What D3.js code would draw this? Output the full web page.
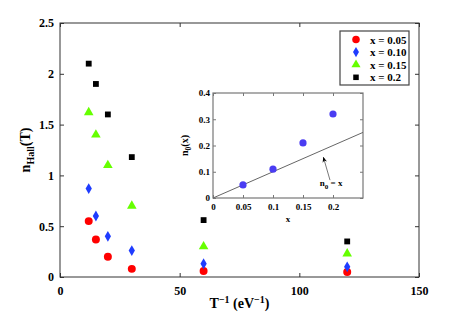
<!DOCTYPE html>
<html>
<head>
<meta charset="utf-8">
<script src="https://cdn.jsdelivr.net/npm/d3@7"></script>
<style>
  body { margin: 0; background: #fff; }
  svg text { font-family: "Liberation Serif", "Times New Roman", serif; font-weight: bold; }
</style>
</head>
<body>
<div id="chart"></div>
<script>
// Main chart data: T^-1 (eV^-1) vs n_Hall(T)
const invT = [12, 15, 20, 30, 60, 120];
const n005 = [0.55, 0.37, 0.20, 0.08, 0.06, 0.05];
const n010 = [0.87, 0.60, 0.40, 0.26, 0.13, 0.10];
const n015 = [1.62, 1.40, 1.10, 0.70, 0.30, 0.23];
const n020 = [2.10, 1.90, 1.60, 1.18, 0.56, 0.35];
const seriesLabels = ["x = 0.05", "x = 0.10", "x = 0.15", "x = 0.2"];

const xTicks = [0, 50, 100, 150];
const yTicks = [0, 0.5, 1, 1.5, 2, 2.5];

// Inset data: n0(x)
const insetX = [0.05, 0.10, 0.15, 0.20];
const insetN0 = [0.05, 0.11, 0.21, 0.32];
const insetXTicks = [0, 0.05, 0.1, 0.15, 0.2];
const insetYTicks = [0, 0.1, 0.2, 0.3, 0.4];

const width = 463, height = 316;
const margin = { top: 23, right: 44, bottom: 39, left: 60 };

const svg = d3.select('#chart').append('svg')
    .attr('width', width)
    .attr('height', height);

const x = d3.scaleLinear().domain([0, 150]).range([margin.left, width - margin.right]);
const y = d3.scaleLinear().domain([0, 2.5]).range([height - margin.bottom, margin.top]);

const axisColor = '#333';

function styleAxis(g, fontSize) {
    g.select('.domain').remove();
    g.selectAll('line').attr('stroke', axisColor);
    g.selectAll('text')
        .attr('fill', '#000')
        .style('font-size', fontSize + 'px');
}

// Axes with ticks pointing inwards
svg.append('g')
    .attr('transform', `translate(0,${y(0)})`)
    .call(d3.axisBottom(x).tickValues(xTicks).tickSizeInner(-4).tickSizeOuter(0).tickPadding(9).tickFormat(d3.format('d')))
    .call(g => styleAxis(g, 12));
svg.append('g')
    .attr('transform', `translate(0,${y(2.5)})`)
    .call(d3.axisTop(x).tickValues(xTicks).tickSizeInner(-4).tickSizeOuter(0).tickFormat(''))
    .call(g => styleAxis(g, 12));
svg.append('g')
    .attr('transform', `translate(${x(0)},0)`)
    .call(d3.axisLeft(y).tickValues(yTicks).tickSizeInner(-4).tickSizeOuter(0).tickPadding(6).tickFormat(d => d))
    .call(g => styleAxis(g, 12));
svg.append('g')
    .attr('transform', `translate(${x(150)},0)`)
    .call(d3.axisRight(y).tickValues(yTicks).tickSizeInner(-4).tickSizeOuter(0).tickFormat(''))
    .call(g => styleAxis(g, 12));

// Frame
svg.append('rect')
    .attr('x', x(0)).attr('y', y(2.5))
    .attr('width', x(150) - x(0)).attr('height', y(0) - y(2.5))
    .attr('fill', 'none').attr('stroke', axisColor).attr('stroke-width', 1);

// Axis labels
const xl = svg.append('text')
    .attr('x', (x(0) + x(150)) / 2 + 0)
    .attr('y', 308)
    .attr('text-anchor', 'middle')
    .style('font-size', '14px');
xl.append('tspan').text('T');
xl.append('tspan').attr('dy', -5).style('font-size', '10px').text('\u22121');
xl.append('tspan').attr('dy', 5).text(' (eV');
xl.append('tspan').attr('dy', -5).style('font-size', '10px').text('\u22121');
xl.append('tspan').attr('dy', 5).text(')');

const yl = svg.append('text')
    .attr('transform', `translate(30,${(y(0) + y(2.5)) / 2}) rotate(-90)`)
    .attr('text-anchor', 'middle')
    .style('font-size', '14px');
yl.append('tspan').text('n');
yl.append('tspan').attr('dy', 4).style('font-size', '10px').text('Hall');
yl.append('tspan').attr('dy', -4).text('(T)');

// Markers
const series = [
    { values: n005, type: d3.symbolCircle, size: 50, color: '#ff0000' },
    { values: n010, type: d3.symbolDiamond, size: 34, color: '#1f3cff' },
    { values: n015, type: d3.symbolTriangle, size: 40, color: '#66ff00' },
    { values: n020, type: d3.symbolSquare, size: 34, color: '#000000' }
];

series.forEach(s => {
    svg.append('g').selectAll('path')
        .data(invT.map((t, i) => [t, s.values[i]]))
        .enter().append('path')
        .attr('transform', d => `translate(${x(d[0])},${y(d[1])})`)
        .attr('d', d3.symbol().type(s.type).size(s.size))
        .attr('fill', s.color);
});

// Legend
const legend = svg.append('g').attr('transform', 'translate(340,31)');
legend.append('rect')
    .attr('width', 69).attr('height', 54)
    .attr('fill', '#fff').attr('stroke', '#444').attr('stroke-width', 1.2);
series.forEach((s, i) => {
    const ly = 8.5 + i * 12.6;
    legend.append('path')
        .attr('transform', `translate(16,${ly})`)
        .attr('d', d3.symbol().type(s.type).size(s.size * 0.9))
        .attr('fill', s.color);
    legend.append('text')
        .attr('x', 30).attr('y', ly + 4)
        .style('font-size', '11px')
        .text(seriesLabels[i]);
});

// Inset
const ix = d3.scaleLinear().domain([0, 0.25]).range([213, 363]);
const iy = d3.scaleLinear().domain([0, 0.4]).range([198, 93]);
const inset = svg.append('g');
const insetColor = '#777';

inset.append('rect')
    .attr('x', ix(0)).attr('y', iy(0.4))
    .attr('width', ix(0.25) - ix(0)).attr('height', iy(0) - iy(0.4))
    .attr('fill', '#fff').attr('stroke', insetColor).attr('stroke-width', 1.2);

function styleInset(g) {
    g.select('.domain').remove();
    g.selectAll('line').attr('stroke', insetColor);
    g.selectAll('text').attr('fill', '#000').style('font-size', '9px');
}
inset.append('g')
    .attr('transform', `translate(0,${iy(0)})`)
    .call(d3.axisBottom(ix).tickValues(insetXTicks).tickSizeInner(-3).tickSizeOuter(0).tickPadding(6).tickFormat(d => d))
    .call(styleInset);
inset.append('g')
    .attr('transform', `translate(0,${iy(0.4)})`)
    .call(d3.axisTop(ix).tickValues(insetXTicks).tickSizeInner(-3).tickSizeOuter(0).tickFormat(''))
    .call(styleInset);
inset.append('g')
    .attr('transform', `translate(${ix(0)},0)`)
    .call(d3.axisLeft(iy).tickValues(insetYTicks).tickSizeInner(-3).tickSizeOuter(0).tickPadding(3).tickFormat(d => d))
    .call(styleInset);
inset.append('g')
    .attr('transform', `translate(${ix(0.25)},0)`)
    .call(d3.axisRight(iy).tickValues(insetYTicks).tickSizeInner(-3).tickSizeOuter(0).tickFormat(''))
    .call(styleInset);

// n0 = x reference line
inset.append('line')
    .attr('x1', ix(0)).attr('y1', iy(0))
    .attr('x2', ix(0.25)).attr('y2', iy(0.25))
    .attr('stroke', '#666').attr('stroke-width', 1);

inset.append('g').selectAll('circle')
    .data(insetX.map((v, i) => [v, insetN0[i]]))
    .enter().append('circle')
    .attr('cx', d => ix(d[0])).attr('cy', d => iy(d[1]))
    .attr('r', 3.6)
    .attr('fill', '#4a3cf2');

// Arrow annotation
svg.append('defs').append('marker')
    .attr('id', 'arrow')
    .attr('viewBox', '0 0 10 10')
    .attr('refX', 9).attr('refY', 5)
    .attr('markerWidth', 7).attr('markerHeight', 7)
    .attr('orient', 'auto')
    .append('path').attr('d', 'M0,1 L10,5 L0,9 L3,5 Z').attr('fill', '#000');
inset.append('line')
    .attr('x1', ix(0.195)).attr('y1', iy(0.068))
    .attr('x2', ix(0.184)).attr('y2', iy(0.155))
    .attr('stroke', '#555').attr('stroke-width', 0.8)
    .attr('marker-end', 'url(#arrow)');

const ann = inset.append('text')
    .attr('x', ix(0.178)).attr('y', 186)
    .style('font-size', '9px');
ann.append('tspan').text('n');
ann.append('tspan').attr('dy', 3).style('font-size', '7px').text('0');
ann.append('tspan').attr('dy', -3).text(' = x');

// Inset axis labels
inset.append('text')
    .attr('x', (ix(0) + ix(0.25)) / 2).attr('y', 222)
    .attr('text-anchor', 'middle')
    .style('font-size', '9px')
    .text('x');
const il = inset.append('text')
    .attr('transform', `translate(188,${(iy(0) + iy(0.4)) / 2}) rotate(-90)`)
    .attr('text-anchor', 'middle')
    .style('font-size', '10px');
il.append('tspan').text('n');
il.append('tspan').attr('dy', 3).style('font-size', '7.5px').text('0');
il.append('tspan').attr('dy', -3).text('(x)');
</script>
</body>
</html>
